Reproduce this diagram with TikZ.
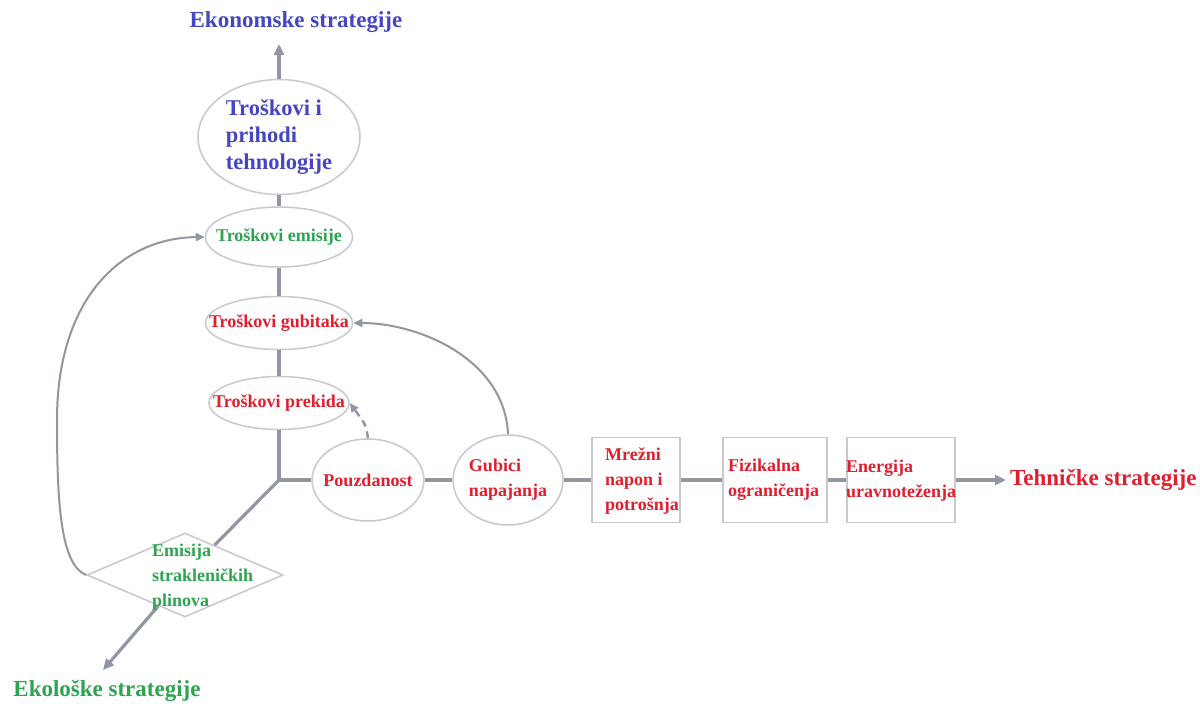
\documentclass[tikz,border=0pt]{standalone}
\usepackage{fontspec}
\setmainfont{Liberation Serif}
\usetikzlibrary{shapes.geometric,arrows.meta}
\definecolor{ublue}{RGB}{70,70,195}
\definecolor{ured}{RGB}{225,30,45}
\definecolor{ugreen}{RGB}{45,165,80}
\definecolor{uline}{RGB}{145,150,162}
\definecolor{uedge}{RGB}{200,200,206}
\begin{document}
\begin{tikzpicture}[x=1pt,y=-1pt,
 ell/.style={ellipse,draw=uedge,line width=1.5pt,fill=white,inner sep=0pt},
 boxnode/.style={rectangle,draw=uedge,line width=1.5pt,fill=white,inner sep=0pt},
 dia/.style={diamond,draw=uedge,line width=1.5pt,fill=white,inner sep=0pt},
 txt/.style={font=\bfseries\fontsize{18}{25}\selectfont, inner sep=0pt, align=left},
 big/.style={font=\bfseries\fontsize{23}{26}\selectfont, inner sep=0pt},
 axisline/.style={draw=uline,line width=3.2pt},
 axisarrow/.style={draw=uline,line width=3.2pt,-{Triangle[length=11pt,width=10pt]}},
 arr/.style={draw=uline,line width=2pt,-{Triangle[length=9pt,width=8pt]}},
]
\useasboundingbox[fill=white] (0,0) rectangle (1200,704);

% nodes (shapes)
\node[ell,minimum width=162pt,minimum height=115pt] (tp) at (279,137) {};
\node[ell,minimum width=147pt,minimum height=60pt] (te) at (279,237) {};
\node[ell,minimum width=147pt,minimum height=53pt] (tg) at (279,323) {};
\node[ell,minimum width=140pt,minimum height=53pt] (tpr) at (279,403) {};
\node[ell,minimum width=112pt,minimum height=82pt] (pz) at (368,480) {};
\node[ell,minimum width=110pt,minimum height=90pt] (gn) at (508,480) {};
\node[boxnode,minimum width=88pt,minimum height=85pt] (b1) at (636,480) {};
\node[boxnode,minimum width=104pt,minimum height=85pt] (b2) at (775,480) {};
\node[boxnode,minimum width=108pt,minimum height=85pt] (b3) at (901,480) {};
\node[dia,minimum width=196pt,minimum height=84pt] (dm) at (185,575) {};

\coordinate (J) at (279,480);
\coordinate (topTip) at (279,44);
\coordinate (ecoTip) at (103,670);
\coordinate (techTip) at (1006,480);

% connectors
\draw[axisline] (J) -- (tpr.south);
\draw[axisline] (tpr.north) -- (tg.south);
\draw[axisline] (tg.north) -- (te.south);
\draw[axisline] (te.north) -- (tp.south);
\draw[axisarrow] (tp.north) -- (topTip);
\draw[axisline] (J) -- (pz.west);
\draw[axisline] (pz.east) -- (gn.west);
\draw[axisline] (gn.east) -- (b1.west);
\draw[axisline] (b1.east) -- (b2.west);
\draw[axisline] (b2.east) -- (b3.west);
\draw[axisarrow] (b3.east) -- (techTip);
\draw[axisline] (J) -- (dm);
\draw[axisarrow] (dm) -- (ecoTip);

\draw[arr] (dm.west) .. controls (60,565) and (57,500) .. (57,420)
  .. controls (57,300) and (120,238) .. (te.west);
\draw[arr] (gn.north) .. controls (505,360) and (420,323) .. (tg.east);
\draw[arr,line width=2.4pt,dashed,dash pattern=on 7pt off 5pt] (pz.north) .. controls (366,425) .. (tpr.east);

% texts
\node[txt,font=\bfseries\fontsize{22.5}{27}\selectfont,text=ublue] (t1) at (tp.center) {Troškovi i\\prihodi\\tehnologije};
\node[txt,text=ugreen] (t2) at (te.center) {Troškovi emisije};
\node[txt,text=ured] (t3) at (tg.center) {Troškovi gubitaka};
\node[txt,text=ured] (t4) at (tpr.center) {Troškovi prekida};
\node[txt,text=ured] (t5) at (pz.center) {Pouzdanost};
\node[txt,text=ured] (t6) at (gn.center) {Gubici\\napajanja};
\node[txt,text=ured,anchor=west] (t7) at (605,481) {Mrežni\\napon i\\potrošnja};
\node[txt,text=ured,anchor=west] (t8) at (728,480) {Fizikalna\\ograničenja};
\node[txt,text=ured,anchor=west] (t9) at (846,481) {Energija\\uravnoteženja};
\node[txt,text=ugreen,anchor=west] (t10) at (152,577) {Emisija\\strakleničkih\\plinova};
\node[big,text=ublue] (ek) at (296,22) {Ekonomske strategije};
\node[big,text=ured,anchor=west] (th) at (1010,480) {Tehničke strategije};
\node[big,text=ugreen] (eo) at (107,691) {Ekološke strategije};
\end{tikzpicture}
\end{document}
